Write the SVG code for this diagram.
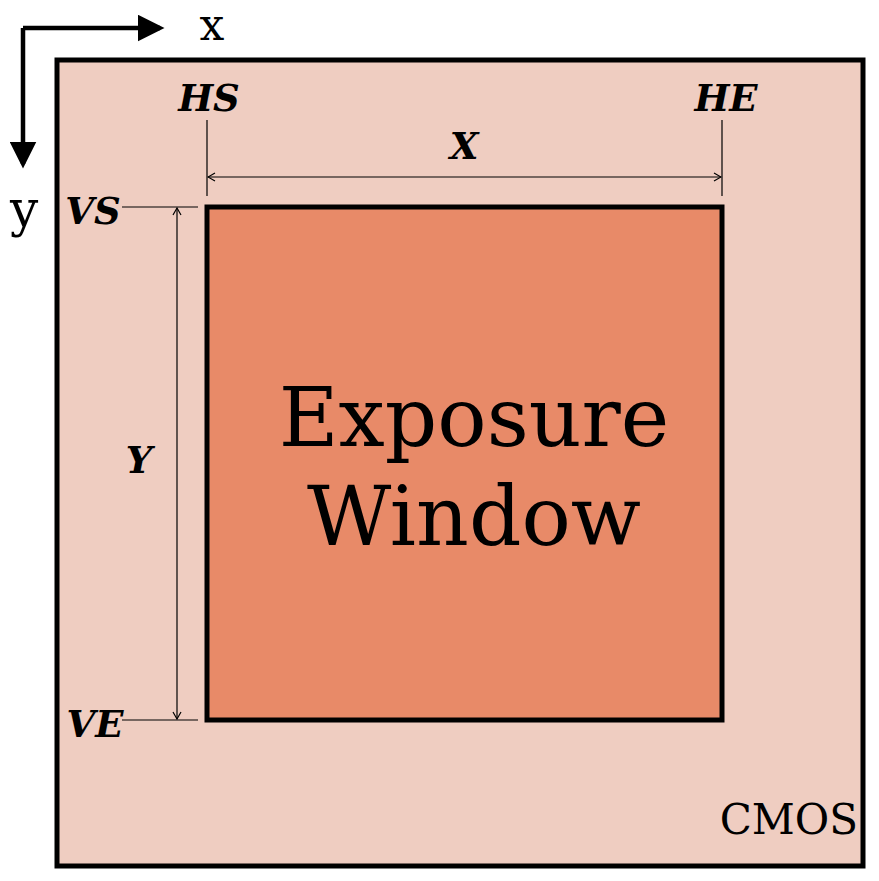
<svg xmlns="http://www.w3.org/2000/svg" width="879" height="881" viewBox="0 0 879 881">
<style>
.lbl{font-family:"DejaVu Serif","Liberation Serif",serif;font-style:italic;font-weight:bold;font-size:37px;fill:#000}
.up{font-family:"DejaVu Serif","Liberation Serif",serif;fill:#000}
.thin{stroke:#000;stroke-width:1.2;fill:none}
</style>
<defs>
<marker id="big" markerWidth="6" markerHeight="6" refX="5" refY="3" orient="auto" markerUnits="strokeWidth"><path d="M0,0 L6,3 L0,6 z" fill="#000"/></marker>
<marker id="sm" markerWidth="10" markerHeight="10" refX="9" refY="5" orient="auto-start-reverse" markerUnits="userSpaceOnUse"><path d="M2,1 L9,5 L2,9" fill="none" stroke="#000" stroke-width="1.2"/></marker>
</defs>
<g id="cmos">
<rect x="57" y="60" width="806" height="806" fill="#EFCDC1" stroke="#000" stroke-width="5"/>
<text class="up" x="858" y="834" font-size="42" text-anchor="end">CMOS</text>
</g>
<g id="window">
<rect x="207" y="207" width="515" height="513" fill="#E88A68" stroke="#000" stroke-width="5"/>
<text class="up" x="474" y="446" font-size="82" text-anchor="middle">Exposure</text>
<text class="up" x="474" y="545" font-size="82" text-anchor="middle">Window</text>
</g>
<g id="axes">
<path d="M23,28 H160" stroke="#000" stroke-width="4.5" fill="none" marker-end="url(#big)"/>
<path d="M23,28 V164" stroke="#000" stroke-width="4.5" fill="none" marker-end="url(#big)"/>
<text class="up" x="212" y="40" font-size="44" text-anchor="middle">x</text>
<text class="up" x="24" y="226" font-size="50" text-anchor="middle">y</text>
</g>
<g id="connectors">
<path class="thin" d="M207,120 V196 M722,120 V196 M122,207 H198 M122,720 H198"/>
<path class="thin" d="M208,177 H721" marker-start="url(#sm)" marker-end="url(#sm)"/>
<path class="thin" d="M177,208 V719" marker-start="url(#sm)" marker-end="url(#sm)"/>
</g>
<g id="labels">
<text class="lbl" x="209" y="111" text-anchor="middle">HS</text>
<text class="lbl" x="726" y="111" text-anchor="middle">HE</text>
<text class="lbl" x="464" y="159" text-anchor="middle">X</text>
<text class="lbl" x="93" y="224" text-anchor="middle">VS</text>
<text class="lbl" x="95" y="737" text-anchor="middle">VE</text>
<text class="lbl" x="139" y="473" text-anchor="middle">Y</text>
</g>
</svg>
